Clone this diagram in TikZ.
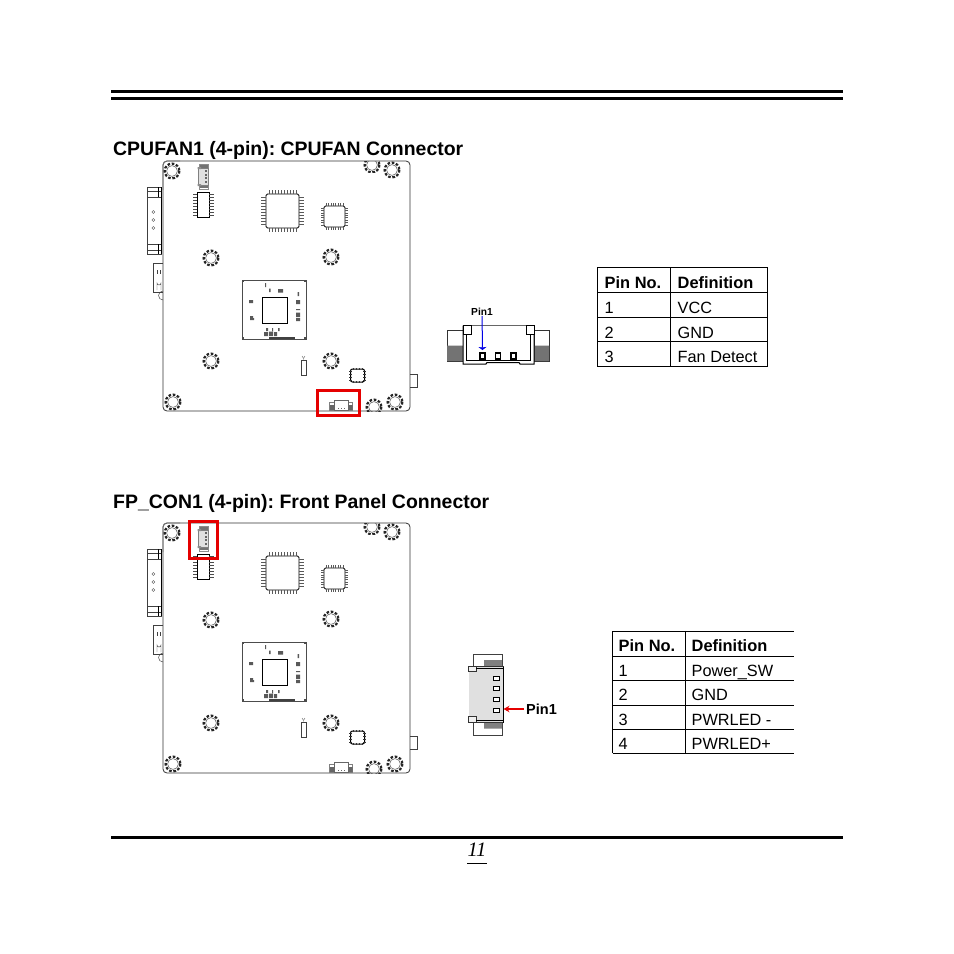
\documentclass[tikz,border=0pt]{standalone}
\usepackage{fontspec}
\usetikzlibrary{arrows.meta}
\setmainfont{Liberation Sans}
\newfontfamily\serifit[Ligatures=TeX]{Liberation Serif}
\frenchspacing
\tikzset{
  x=1pt,y=-1pt,
  ln/.style={draw=black,line width=0.6pt},
  thin ln/.style={draw=black!75,line width=0.45pt},
  hd/.style={anchor=base west,inner sep=0pt,font=\fontsize{19.45}{21}\selectfont\bfseries},
  tb/.style={anchor=base west,inner sep=0pt,font=\fontsize{16.3}{18}\selectfont},
  tbb/.style={anchor=base west,inner sep=0pt,font=\fontsize{16.4}{18}\selectfont\bfseries},
  pinl/.style={inner sep=0pt,font=\bfseries},
  redbox/.style={draw=red!90!black,line width=3pt},
  standoff/.pic={
    \draw[black!70,line width=0.5pt] (0,0) circle (5.4);
    \draw[black!85,line width=2.2pt,dash pattern=on 2.6pt off 1.7pt] (0,0) circle (7.4);
  },
  board/.pic={
    % outline
    \draw[black!80,line width=0.8pt,rounded corners=4pt] (163,161) rectangle (410,411);
    \draw[black!55,line width=0.8pt,rounded corners=4pt] (163,190) -- (163,161) -- (180,161);
    % standoffs
    \foreach \sx/\sy in {172/171,392/170,211/258,331/257,211/361,331/361,173/402,395/402}
      \pic at (\sx,\sy) {standoff};
    \begin{scope}
      \clip (360,161) rectangle (390,172);
      \pic at (372,165) {standoff};
    \end{scope}
    \begin{scope}
      \clip (360,395) rectangle (388,411);
      \pic at (374,407) {standoff};
    \end{scope}
    % VGA connector
    \draw[thin ln,fill=white] (147,187) rectangle (161,254);
    \draw[thin ln] (147,197) -- (161,197) (147,244) -- (161,244) (147,191) -- (161,191) (147,250) -- (161,250);
    \draw[black,line width=1pt] (161,187) -- (161,254);
    \draw[black,line width=0.7pt] (158,187) -- (158,197) (158,244) -- (158,254);
    \foreach \cy in {212,220,228} \draw[black!70,line width=0.4pt] (153.3,\cy) circle (1.5);
    % audio connector
    \draw[thin ln] (153,263) -- (163,263) (153,263) -- (153,292) -- (163,292);
    \draw[thin ln] (157,270) -- (157,274) (160,270) -- (160,274);
    \draw[thin ln] (157,290) -- (157,283) arc (180:0:2) -- (161,290);
    \draw[thin ln] (163,300) arc (90:270:4.5);
    % right tab
    \draw[thin ln] (410,374) -- (417,374) -- (417,387) -- (410,387);
    % large chip
    \draw[black,line width=0.9pt,rounded corners=1.5pt] (266,194) rectangle (299,228);
    \foreach \p in {0,...,9} {
      \draw[black!65,line width=0.6pt] (269+\p*3,190) -- (269+\p*3,194);
      \draw[black!65,line width=0.6pt] (269+\p*3,228) -- (269+\p*3,232);
      \draw[black!65,line width=0.6pt] (261,197+\p*3) -- (266,197+\p*3);
      \draw[black!65,line width=0.6pt] (299,197+\p*3) -- (304,197+\p*3);
    }
    % small chip
    \draw[black,line width=0.9pt,rounded corners=1.5pt] (324,206) rectangle (345,227);
    \foreach \p in {0,...,7} {
      \draw[black!65,line width=0.6pt] (326+\p*2.4,203) -- (326+\p*2.4,206);
      \draw[black!65,line width=0.6pt] (326+\p*2.4,227) -- (326+\p*2.4,230);
      \draw[black!65,line width=0.6pt] (321,208+\p*2.4) -- (324,208+\p*2.4);
      \draw[black!65,line width=0.6pt] (345,208+\p*2.4) -- (348,208+\p*2.4);
    }
    % SOIC
    \draw[black,line width=0.7pt] (197,192) rectangle (209,217);
    \foreach \p in {0,...,7} {
      \draw[black!70,line width=0.7pt] (193,194+\p*3) -- (197,194+\p*3);
      \draw[black!70,line width=0.7pt] (209,194+\p*3) -- (214,194+\p*3);
    }
    % top mini connector
    \draw[black!45,line width=0.5pt] (199,164) rectangle (208,189);
    \fill[black!55] (200,165) rectangle (208,168);
    \fill[black!55] (200,185) rectangle (208,188);
    \draw[black!50,line width=0.5pt,fill=black!12] (198,168) rectangle (208,185);
    \fill[black!45] (197.5,167) rectangle (201,169) (197.5,184) rectangle (201,186);
    \foreach \cy in {171,175,178,182} \fill[black!60] (205,\cy-0.6) rectangle (207,\cy+0.6);
    % centre package
    \draw[black!70,line width=0.6pt] (242,280) rectangle (306,339);
    \foreach \mx/\my in {243/281,305/281,243/338,305/338} \fill[black!70] (\mx-1,\my-1) rectangle (\mx+1,\my+1);
    \draw[black,line width=0.6pt] (262,297) rectangle (287,323);
    \fill[black!65] (265,283) rectangle (266,287) (269,288.5) rectangle (270.5,292)
      (278,289) rectangle (283,292.5)
      (249,300) rectangle (253,303) (250,316) rectangle (253,320) (252,318) rectangle (254,320)
      (297.5,292) rectangle (299,296) (296,300) rectangle (300,304) (296,309) rectangle (300,310)
      (296,312.5) rectangle (300,317) (296,318) rectangle (300,321)
      (266,328) rectangle (268,331) (272,328) rectangle (273,331) (278,328) rectangle (279.5,331)
      (264,332) rectangle (268,336) (269,331.5) rectangle (273,336) (274,332) rectangle (277,336);
    \fill[black!75] (269,336.5) rectangle (295,339);
    % small element
    \draw[thin ln] (301,360) rectangle (306,375);
    \draw[black!60,line width=0.4pt] (302,356) -- (303.5,358.5) -- (305,356) (303.5,358.5) -- (303.5,360);
    % rounded chip
    \draw[black,line width=1pt,rounded corners=2pt] (350.5,369) rectangle (364.5,382);
    \foreach \p in {0,...,3} {
      \draw[black!80,line width=0.8pt] (349,371+\p*3) -- (352,371+\p*3);
      \draw[black!80,line width=0.8pt] (363,371+\p*3) -- (366,371+\p*3);
      \draw[black!80,line width=0.8pt] (353+\p*3,368) -- (353+\p*3,370);
      \draw[black!80,line width=0.8pt] (353+\p*3,381) -- (353+\p*3,383);
    }
    % bottom mini connector
    \draw[black!50,line width=0.5pt] (329.5,402) rectangle (352.5,410);
    \draw[black!60,line width=0.5pt,fill=white] (334,400) rectangle (348,410);
    \fill[black!60] (330,405) rectangle (334,410) (349,405) rectangle (352.5,410);
    \foreach \p in {338,341,344} \fill[black!60] (\p-0.5,407.5) rectangle (\p+0.5,409);
  },
  blarrow/.style={draw=blue!90!black,line width=1pt,-{Stealth[length=3pt,width=8pt,inset=0.5pt]}},
  rdarrow/.style={draw=red!90!black,line width=1.3pt,-{Stealth[length=6pt,width=6.5pt]}}
}
\begin{document}
\begin{tikzpicture}
\useasboundingbox (0,0) rectangle (954,954);
\fill[white] (0,0) rectangle (954,954);
% page rules
\draw[black,line width=3.4pt] (111,91.7) -- (843,91.7);
\draw[black,line width=3.4pt] (111,98.3) -- (843,98.3);
\draw[black,line width=2.6pt] (111,837.5) -- (843,837.5);
\node[inner sep=0pt,font=\serifit\itshape\fontsize{20.5}{22}\selectfont] (pgno) at (477,850) {11};
\draw[black,line width=0.6pt] (467,863) -- (487,863);
% headings
\node[hd] (h1) at (113,155) {CPUFAN1 (4-pin): CPUFAN Connector};
\node[hd] (h2) at (113,508) {FP\_CON1 (4-pin): Front Panel Connector};
% boards
\pic at (0,0) {board};
\pic at (0,362) {board};
\draw[redbox] (317,390.5) rectangle (359.5,415.5);
\draw[redbox] (189.5,521.5) rectangle (217.5,558.5);
% table 1
\draw[ln] (597.7,267.7) rectangle (767.3,366.7);
\draw[ln] (670,267.7) -- (670,366.7);
\foreach \ry in {292.3,317.3,341.7} \draw[ln] (597.7,\ry) -- (767.3,\ry);
\node[tbb] (t1a) at (604.5,288.2) {Pin No.};
\node[tbb] (t1b) at (677.5,288.2) {Definition};
\node[tb] (t1c) at (604.5,313) {1};
\node[tb] (t1d) at (677.5,313) {VCC};
\node[tb] (t1e) at (604.5,338) {2};
\node[tb] (t1f) at (677.5,338) {GND};
\node[tb] (t1g) at (604.5,362.3) {3};
\node[tb] (t1h) at (677.5,362.3) {Fan Detect};
% table 2
\draw[ln] (612.5,753) -- (612.5,630.8) -- (794,630.8);
\draw[ln] (684.8,630.8) -- (684.8,753);
\foreach \ry in {656,680.5,705,729,753} \draw[ln] (612.5,\ry) -- (794,\ry);
\node[tbb] (t2a) at (618.5,651) {Pin No.};
\node[tbb] (t2b) at (691.5,651) {Definition};
\node[tb] (t2c) at (618.5,676.3) {1};
\node[tb] (t2d) at (691.5,676.3) {Power\_SW};
\node[tb] (t2e) at (618.5,700.5) {2};
\node[tb] (t2f) at (691.5,700.5) {GND};
\node[tb] (t2g) at (618.5,725) {3};
\node[tb] (t2h) at (691.5,725) {PWRLED -};
\node[tb] (t2i) at (618.5,749) {4};
\node[tb] (t2j) at (691.5,749) {PWRLED+};
% connector 1 detail
\draw[black!80,line width=0.7pt] (447,330) rectangle (463,361);
\draw[black!80,line width=0.7pt] (534,330) rectangle (549,361);
\fill[black!55] (447,345.5) rectangle (463,361) (534.5,345.5) rectangle (549,361);
\draw[black,line width=1pt,fill=white] (463,325.5) -- (463,364) -- (486,364) -- (487,362.5) -- (519,362.5) -- (520,364) -- (534,364) -- (534,325.5);
\draw[black!60,line width=1.3pt] (472,325.5) -- (526,325.5);
\draw[black,line width=0.8pt] (466.5,334) -- (466.5,360) -- (530.5,360) -- (530.5,334);
\draw[black,line width=1pt,fill=white] (463,325) rectangle (471.5,334);
\draw[black,line width=1pt,fill=white] (526,325) rectangle (534,334);
\foreach \px in {482.5,498,513.5} \draw[black,line width=1.1pt] (\px-2.5,353) rectangle (\px+2.5,359);
\node[pinl,font=\fontsize{10.2}{12}\selectfont\bfseries] (p1) at (482,312) {Pin1};
\coordinate (p1t) at (482.5,350);
\draw[blarrow] (p1) -- (p1t);
% connector 2 detail
\draw[black!75,line width=0.8pt] (473.5,654) rectangle (502,735);
\fill[black!50] (484,660) rectangle (502,666.5) (484,722.5) rectangle (502,728.5);
\draw[black!80,line width=0.8pt,fill=black!12] (469,666.5) rectangle (503,722.5);
\draw[black,line width=1pt] (503,666.5) -- (503,722.5);
\fill[black!12] (469,667) rectangle (502,722);
\draw[black!80,line width=0.7pt,fill=black!6] (468.5,666.5) rectangle (476.5,671.5);
\draw[black!80,line width=0.7pt,fill=black!6] (468.5,716) rectangle (476.5,722);
\draw[black,line width=0.7pt] (476,668.5) -- (503,668.5) (476,720.5) -- (503,720.5);
\foreach \py in {678,688,699,710} \draw[black,line width=1pt,fill=white] (493.5,\py-2) rectangle (499.5,\py+2);
\node[pinl,anchor=west,inner sep=2pt,font=\fontsize{14.5}{16}\selectfont\bfseries] (p2) at (524,709) {Pin1};
\coordinate (p2t) at (503.5,709);
\draw[rdarrow] (p2) -- (p2t);
\end{tikzpicture}
\end{document}
